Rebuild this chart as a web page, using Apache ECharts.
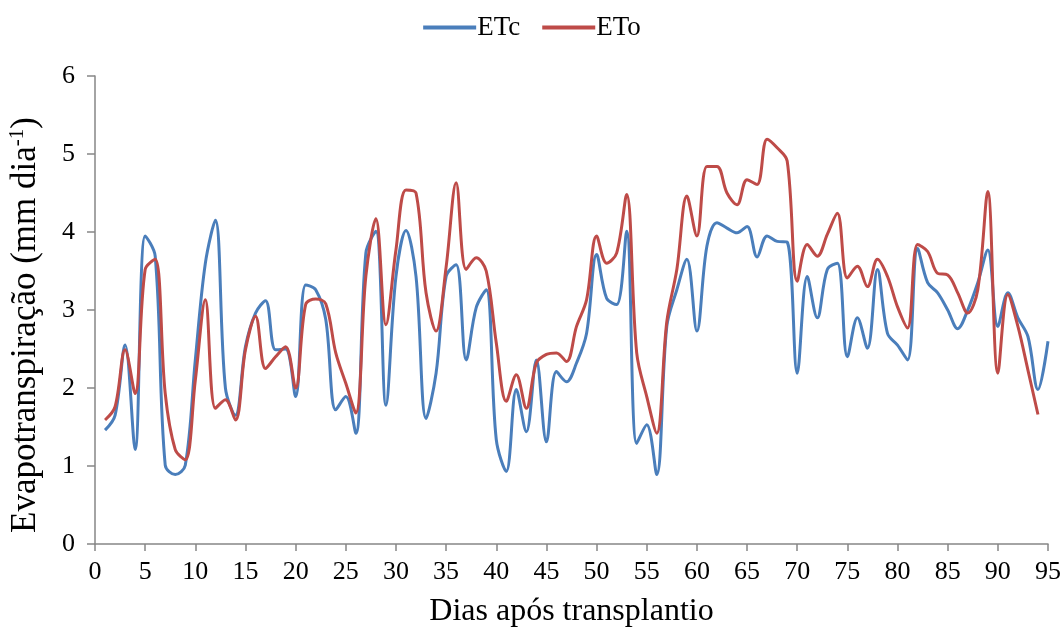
<!DOCTYPE html>
<html><head><meta charset="utf-8">
<script src="https://cdn.jsdelivr.net/npm/echarts@6/dist/echarts.min.js"></script>
<style>html,body{margin:0;padding:0;background:#fff}#c{width:1064px;height:633px}</style>
</head><body><div id="c"></div>
<script>
var days = [];
for (var i = 1; i <= 95; i++) days.push(i);
var etc = [1.46,1.65,2.55,1.21,3.95,3.69,1.01,0.89,1.01,2.36,3.6,4.15,2.0,1.65,2.53,2.96,3.12,2.49,2.5,1.89,
3.32,3.26,2.88,1.72,1.89,1.42,3.73,4.01,1.78,3.43,4.02,3.43,1.61,2.19,3.43,3.58,2.36,3.03,3.26,1.34,
0.93,1.98,1.44,2.36,1.31,2.21,2.08,2.32,2.70,3.71,3.15,3.07,4.01,1.29,1.53,0.89,2.79,3.26,3.65,2.73,
3.82,4.12,4.05,3.99,4.07,3.68,3.95,3.88,3.87,2.19,3.43,2.90,3.52,3.60,2.40,2.90,2.51,3.52,2.70,2.55,
2.36,3.79,3.35,3.22,3.00,2.76,3.00,3.35,3.77,2.79,3.22,2.90,2.66,1.98,2.60];
var eto = [1.59,1.76,2.49,1.93,3.52,3.65,1.93,1.21,1.08,2.1,3.13,1.74,1.85,1.59,2.49,2.92,2.25,2.40,2.53,2.0,
3.07,3.14,3.08,2.45,2.06,1.68,3.43,4.17,2.81,3.77,4.54,4.50,3.22,2.73,3.55,4.63,3.52,3.67,3.50,2.58,
1.83,2.17,1.74,2.32,2.43,2.45,2.34,2.79,3.13,3.95,3.60,3.73,4.48,2.45,1.89,1.42,2.85,3.52,4.46,3.95,
4.84,4.84,4.50,4.35,4.67,4.61,5.19,5.08,4.91,3.37,3.84,3.69,3.97,4.24,3.41,3.56,3.30,3.65,3.43,3.04,
2.77,3.84,3.75,3.47,3.45,3.22,2.96,3.26,4.52,2.19,3.20,2.79,2.23,1.66];
var xTicks = {min:0, max:95, step:5};
var yTicks = {min:0, max:6, step:1};

function pairs(vals){ return vals.map(function(v,i){ return [days[i], v]; }); }
var font = '"Liberation Serif","Times New Roman",serif';
var axisCol = '#868686';
var chart = echarts.init(document.getElementById('c'));
chart.setOption({
  animation:false,
  textStyle:{fontFamily:font},
  legend:{top:9, left:'center', itemGap:22, itemWidth:53, itemHeight:4, icon:'rect',
    textStyle:{fontFamily:font, fontSize:27, color:'#000', padding:[0,0,0,-4]},
    data:['ETc','ETo']},
  grid:{left:95, right:16, top:76, bottom:89, containLabel:false, outerBoundsMode:'none'},
  xAxis:{type:'value', min:xTicks.min, max:xTicks.max, interval:xTicks.step,
    name:'Dias após transplantio', nameLocation:'middle', nameGap:52,
    nameTextStyle:{fontFamily:font, fontSize:32, color:'#000'},
    axisLine:{lineStyle:{color:axisCol, width:1.5}},
    axisTick:{length:7, lineStyle:{color:axisCol, width:1.5}},
    axisLabel:{fontFamily:font, fontSize:26, color:'#000', margin:15},
    splitLine:{show:false}},
  yAxis:{type:'value', min:yTicks.min, max:yTicks.max, interval:yTicks.step,
    name:'{a|Evapotranspiração (mm dia}{s|-1}{a|)}', nameLocation:'middle', nameGap:51, nameRotate:90,
    nameTextStyle:{padding:[0,30,0,0], rich:{a:{fontFamily:font, fontSize:35, color:'#000'}, s:{fontFamily:font, fontSize:21, color:'#000', verticalAlign:'top', padding:[0,0,16,0]}}},
    axisLine:{show:true, lineStyle:{color:axisCol, width:1.5}},
    axisTick:{show:true, length:8, lineStyle:{color:axisCol, width:1.5}},
    axisLabel:{fontFamily:font, fontSize:26, color:'#000', margin:20},
    splitLine:{show:false}},
  series:[
    {name:'ETc', type:'line', smooth:0.35, showSymbol:false, data:pairs(etc),
      lineStyle:{color:'#4a7ebb', width:3}, itemStyle:{color:'#4a7ebb'}},
    {name:'ETo', type:'line', smooth:0.35, showSymbol:false, data:pairs(eto),
      lineStyle:{color:'#be4b48', width:3}, itemStyle:{color:'#be4b48'}}
  ]
});
</script></body></html>
